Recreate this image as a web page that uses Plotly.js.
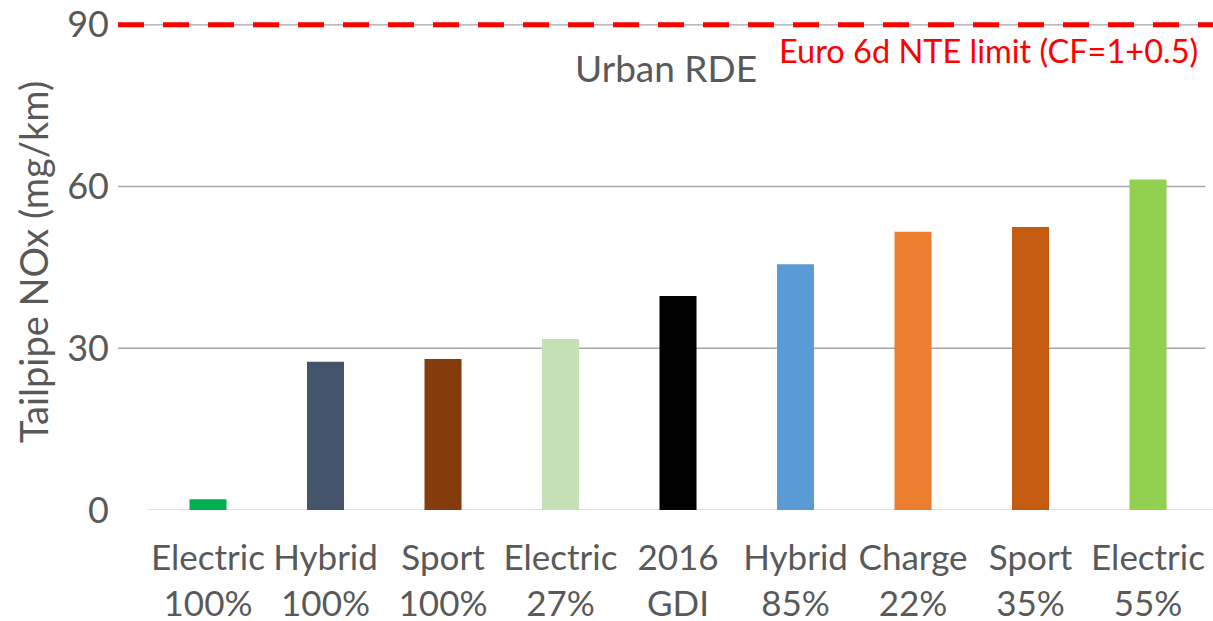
<!DOCTYPE html>
<html>
<head>
<meta charset="utf-8">
<script src="https://cdn.plot.ly/plotly-3.0.1.min.js"></script>
<style>html,body{margin:0;padding:0;background:#fff;}#chart{width:1213px;height:621px;}</style>
</head>
<body>
<div id="chart"></div>
<script>
// Data
var labelLine1 = ["Electric", "Hybrid", "Sport", "Electric", "2016", "Hybrid", "Charge", "Sport", "Electric"];
var labelLine2 = ["100%", "100%", "100%", "27%", "GDI", "85%", "22%", "35%", "55%"];
var noxValues = [2.0, 27.5, 28.0, 31.7, 39.7, 45.6, 51.6, 52.5, 61.3];
var barColors = ["#00B050", "#44546A", "#843C0C", "#C5E0B4", "#000000", "#5B9BD5", "#ED7D31", "#C55A11", "#92D050"];
var yTickVals = [0, 30, 60, 90];
var gridVals = [30, 60, 90];
var limitValue = 90;
var limitLabel = "Euro 6d NTE limit (CF=1+0.5)";
var subtitle = "Urban RDE";
var yTitle = "Tailpipe NOx (mg/km)";

var categories = labelLine1.map(function (a, i) { return a + "<br>" + labelLine2[i]; });

var FONT = "Lato, 'Open Sans', sans-serif";
var GREY = "#595959";

var trace = {
  type: "bar",
  x: categories,
  y: noxValues,
  width: 0.315,
  marker: { color: barColors, line: { width: 0 } },
  hoverinfo: "x+y"
};

var shapes = [];
gridVals.forEach(function (v) {
  shapes.push({
    type: "line", xref: "paper", yref: "y", x0: 0, x1: 0.993, y0: v, y1: v,
    line: { color: "#A6A6A6", width: 1.3 }, layer: "below"
  });
});
// baseline at zero
shapes.push({
  type: "line", xref: "x", yref: "y", x0: -0.51, x1: 8.55, y0: 0, y1: 0,
  line: { color: "#D9D9D9", width: 1.3 }, layer: "below"
});
// limit line
shapes.push({
  type: "line", xref: "paper", yref: "y", x0: 0, x1: 1, y0: limitValue, y1: limitValue,
  line: { color: "#FF0000", width: 5, dash: "26px,19px" }, layer: "above"
});

var layout = {
  width: 1213,
  height: 621,
  margin: { l: 118, r: 0, t: 14, b: 111 },
  paper_bgcolor: "#ffffff",
  plot_bgcolor: "#ffffff",
  showlegend: false,
  font: { family: FONT, color: GREY },
  xaxis: {
    type: "category",
    range: [-0.766, 8.553],
    showgrid: false,
    zeroline: false,
    showline: false,
    ticks: "",
    tickfont: { size: 35, color: GREY, family: FONT },
    ticklabelstandoff: 24,
    automargin: false,
    fixedrange: true
  },
  yaxis: {
    range: [0, 92],
    tickvals: yTickVals,
    ticktext: yTickVals.map(String),
    showgrid: false,
    zeroline: false,
    showline: false,
    ticks: "",
    tickfont: { size: 36, color: GREY, family: FONT },
    ticklabelstandoff: 8,
    automargin: false,
    fixedrange: true,
    title: { text: yTitle, font: { size: 38, color: GREY, family: FONT }, standoff: 6 }
  },
  shapes: shapes,
  annotations: [
    {
      text: subtitle, xref: "paper", yref: "y", x: 0.5, y: 82,
      xanchor: "center", yanchor: "middle", showarrow: false,
      font: { size: 37, color: GREY, family: FONT }
    },
    {
      text: limitLabel, xref: "paper", yref: "y", x: 0.988, y: 85.3,
      xanchor: "right", yanchor: "middle", showarrow: false,
      font: { size: 32.5, color: "#FF0000", family: FONT }
    }
  ]
};

Plotly.newPlot("chart", [trace], layout, { displayModeBar: false, staticPlot: true });
</script>
</body>
</html>
